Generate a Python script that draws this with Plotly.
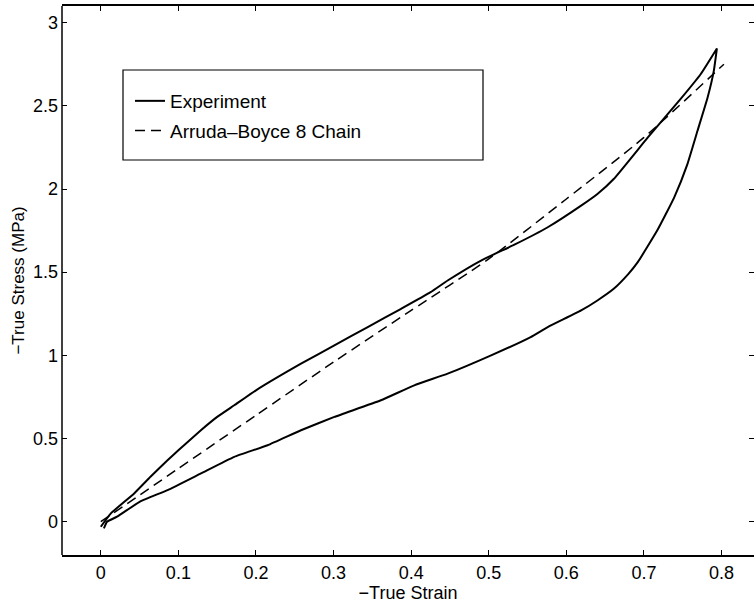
import plotly.graph_objects as go

# Experiment: loading branch (upper)
strain_load = [0.0, 0.013, 0.043, 0.064, 0.086, 0.1, 0.129, 0.15, 0.172, 0.2, 0.258,
               0.301, 0.344, 0.387, 0.425, 0.447, 0.49, 0.533, 0.576, 0.619, 0.64,
               0.661, 0.705, 0.747, 0.773, 0.794]
stress_load = [-0.03, 0.05, 0.17, 0.27, 0.37, 0.43, 0.55, 0.63, 0.70, 0.79, 0.95,
               1.06, 1.17, 1.28, 1.38, 1.45, 1.57, 1.665, 1.77, 1.90, 1.97,
               2.06, 2.31, 2.54, 2.69, 2.845]

# Experiment: unloading branch (lower)
strain_unload = [0.794, 0.790, 0.782, 0.769, 0.756, 0.739, 0.717, 0.692, 0.68, 0.661,
                 0.64, 0.619, 0.576, 0.554, 0.503, 0.447, 0.404, 0.361, 0.301, 0.258,
                 0.215, 0.172, 0.129, 0.086, 0.05, 0.021, 0.008, 0.004]
stress_unload = [2.845, 2.71, 2.55, 2.35, 2.15, 1.95, 1.75, 1.56, 1.49, 1.40,
                 1.33, 1.27, 1.17, 1.11, 1.0, 0.89, 0.82, 0.73, 0.63, 0.55,
                 0.46, 0.39, 0.29, 0.19, 0.12, 0.03, 0.0, -0.04]

# Arruda-Boyce 8 chain model
strain_model = [0.0, 0.1, 0.2, 0.3, 0.4, 0.5, 0.6, 0.7, 0.803]
stress_model = [0.0, 0.32, 0.64, 0.96, 1.27, 1.58, 1.94, 2.31, 2.75]

x_ticks = [0, 0.1, 0.2, 0.3, 0.4, 0.5, 0.6, 0.7, 0.8]
x_ticklabels = ["0", "0.1", "0.2", "0.3", "0.4", "0.5", "0.6", "0.7", "0.8"]
y_ticks = [0, 0.5, 1, 1.5, 2, 2.5, 3]
y_ticklabels = ["0", "0.5", "1", "1.5", "2", "2.5", "3"]

FONT = "Liberation Sans, Arial, Helvetica, sans-serif"

fig = go.Figure()
fig.add_trace(go.Scatter(
    x=strain_load + strain_unload, y=stress_load + stress_unload,
    mode="lines", name="Experiment", legendgroup="a",
    line=dict(color="black", width=2, shape="spline", smoothing=0.4),
))
fig.add_trace(go.Scatter(
    x=strain_model, y=stress_model,
    mode="lines", name="Arruda\u2013Boyce 8 Chain", legendgroup="b",
    line=dict(color="black", width=1.5, dash="10px,6px", shape="spline", smoothing=0.6),
))

W, H = 754, 605
L, R, T, B = 62, 0, 6, 50
pw, ph = W - L - R, H - T - B

def px_to_paper_x(px):
    return (px - L) / pw

def px_to_paper_y(py):
    return (H - B - py) / ph

# legend frame
fig.add_shape(type="rect", xref="paper", yref="paper",
              x0=px_to_paper_x(123), x1=px_to_paper_x(483),
              y0=px_to_paper_y(160), y1=px_to_paper_y(70),
              line=dict(color="black", width=1.2), fillcolor="white", layer="above")
# left axis line (right side of the frame is cut off in the original)
fig.add_shape(type="line", xref="paper", yref="paper", x0=0, x1=0, y0=0, y1=1,
              line=dict(color="black", width=1.5), layer="above")

fig.update_layout(
    width=W, height=H,
    margin=dict(l=L, r=R, t=T, b=B),
    paper_bgcolor="white", plot_bgcolor="white",
    font=dict(family=FONT, size=18, color="black"),
    showlegend=True,
    legend=dict(
        x=px_to_paper_x(130), y=px_to_paper_y(82), xanchor="left", yanchor="top",
        bgcolor="rgba(0,0,0,0)", borderwidth=0,
        font=dict(family=FONT, size=19, color="black"),
        tracegroupgap=2,
    ),
    xaxis=dict(
        range=[-0.05, 0.8418], tickvals=x_ticks, ticktext=x_ticklabels,
        ticks="inside", ticklen=5, tickwidth=1, tickcolor="black",
        showline=True, linecolor="black", linewidth=1.5, mirror="ticks",
        showgrid=False, zeroline=False,
        tickfont=dict(family=FONT, size=18, color="black"),
        ticklabelstandoff=1,
        title=dict(text="\u2212True Strain", font=dict(family=FONT, size=18, color="black"), standoff=0),
    ),
    yaxis=dict(
        range=[-0.2, 3.1], tickvals=y_ticks, ticktext=y_ticklabels,
        ticks="inside", ticklen=5, tickwidth=1, tickcolor="black",
        showline=False, mirror="ticks",
        showgrid=False, zeroline=False,
        tickfont=dict(family=FONT, size=18, color="black"),
        ticklabelstandoff=3,
        title=dict(text="\u2212True Stress (MPa)", font=dict(family=FONT, size=17, color="black"), standoff=4),
    ),
)

fig.write_html("out.html")
